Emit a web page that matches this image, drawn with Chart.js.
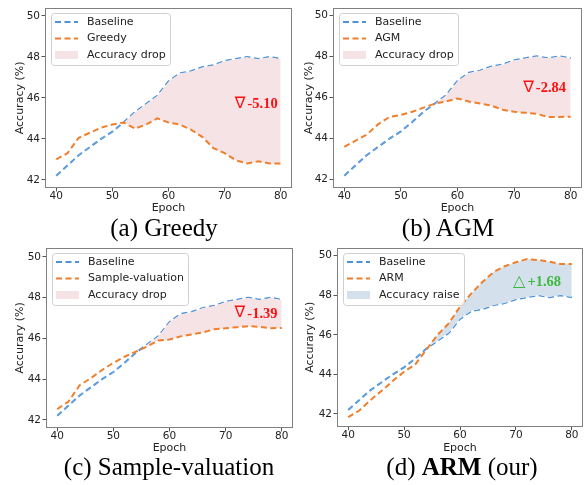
<!DOCTYPE html>
<html><head><meta charset="utf-8">
<script src="https://cdn.jsdelivr.net/npm/chart.js@4.4.0/dist/chart.umd.min.js"></script>
<style>
html,body{margin:0;padding:0;background:#fff;width:585px;height:485px;overflow:hidden;}
canvas{position:absolute;display:block;}
.cap{position:absolute;font-family:"Liberation Serif","Times New Roman",serif;font-size:25px;line-height:25px;color:#000;white-space:nowrap;transform:translateX(-50%);}
</style></head><body>
<canvas id="ca" width="293" height="218" style="left:0;top:0"></canvas>
<canvas id="cb" width="292" height="218" style="left:293px;top:0"></canvas>
<canvas id="cc" width="293" height="218" style="left:0;top:240px"></canvas>
<canvas id="cd" width="292" height="218" style="left:293px;top:240px"></canvas>
<div class="cap" style="left:164px;top:215px">(a) Greedy</div>
<div class="cap" style="left:448px;top:215px">(b) AGM</div>
<div class="cap" style="left:169px;top:454px">(c) Sample-valuation</div>
<div class="cap" style="left:462px;top:454px">(d) <b>ARM</b> (our)</div>
<script>
// ---- data ----
const epochs = [40,42,44,46,48,50,52,54,56,58,60,62,64,66,68,70,72,74,76,78,80];
const baseline  = [42.2,42.7,43.2,43.6,44.0,44.35,44.8,45.3,45.7,46.1,46.8,47.2,47.3,47.5,47.6,47.8,47.9,48.0,47.9,48.0,47.9];
const greedy    = [43.0,43.3,44.05,44.3,44.55,44.7,44.8,44.5,44.7,45.0,44.8,44.7,44.45,44.1,43.55,43.3,42.95,42.8,42.9,42.8,42.8];
const agm       = [43.6,43.9,44.2,44.7,45.05,45.15,45.3,45.5,45.7,45.8,45.95,45.8,45.7,45.6,45.4,45.3,45.25,45.2,45.05,45.05,45.06];
const sampleVal = [42.53,42.9,43.7,44.05,44.45,44.8,45.1,45.35,45.6,45.9,45.95,46.1,46.2,46.3,46.45,46.5,46.55,46.6,46.57,46.5,46.51];
const arm       = [41.83,42.17,42.7,43.17,43.67,44.13,44.5,45.25,46.0,46.58,47.42,48.08,48.67,49.17,49.47,49.67,49.83,49.78,49.7,49.58,49.58];
const xTicks = [40,50,60,70,80];
const yTicks = [42,44,46,48,50];
const baselineLabel = 'Baseline';
const methodNames = ['Greedy','AGM','Sample-valuation','ARM'];
const fillLabels = ['Accuracy drop','Accuracy drop','Accuracy drop','Accuracy raise'];
const yTitles = ['Accuracy (%)','Accuracy (%)','Accurary (%)','Accurary (%)'];
const xTitle = 'Epoch';
const noteSymbols = ['\u2207','\u2207','\u2207','\u25B3'];
const noteTexts = ['-5.10','-2.84','-1.39','+1.68'];

// ---- styles ----
const BLUE='#4b92da', ORANGE='#f07f2c', PINK='#f6e3e6', LBLUE='#d4e1ec', RED='#ff1010', GREEN='#3cb83c';
const FRAME='#808080', TXT='#222';
const CLEAR='rgba(0,0,0,0)';

const decor = {
  id:'decor',
  afterDatasetsDraw(chart, args, o){
    const {ctx, chartArea:ca, scales} = chart;
    ctx.save();
    // frame
    ctx.strokeStyle = FRAME; ctx.lineWidth = 1; ctx.setLineDash([]);
    const L=Math.round(ca.left), T=Math.round(ca.top), R=Math.round(ca.right), B=Math.round(ca.bottom);
    ctx.strokeRect(L+0.5, T+0.5, R-L-1, B-T-1);
    // annotation
    const px = scales.x.getPixelForValue(o.noteX), py = scales.y.getPixelForValue(o.noteY);
    ctx.fillStyle = o.noteColor; ctx.textAlign='left'; ctx.textBaseline='middle';
    ctx.font = '16px "DejaVu Sans"';
    ctx.fillText(o.noteSym, px, py);
    const sw = ctx.measureText(o.noteSym).width;
    ctx.font = 'bold 14.5px "Liberation Serif"';
    ctx.fillText(o.noteText, px + sw + 2, py + 1);
    // legend
    const ds = chart.data.datasets;
    const items = [
      {type:'line', label: ds[0].label, color: ds[0].borderColor, dash: ds[0].borderDash},
      {type:'line', label: ds[1].label, color: ds[1].borderColor, dash: ds[1].borderDash},
      {type:'patch', label: o.fillLabel, color: o.fillColor}
    ];
    ctx.font = '11px "DejaVu Sans"';
    const tw = Math.max(...items.map(i => ctx.measureText(i.label).width));
    const x0 = ca.left + 6, y0 = ca.top + 5.5, w = 36 + tw + 4, h = 51.5;
    ctx.beginPath();
    ctx.roundRect(Math.round(x0)+0.5, Math.round(y0)+0.5, Math.round(w), Math.round(h), 3);
    ctx.fillStyle = 'rgba(255,255,255,0.8)'; ctx.fill();
    ctx.strokeStyle = '#d0d0d0'; ctx.lineWidth = 1; ctx.stroke();
    items.forEach((it, k) => {
      const cy = y0 + 8.7 + k * 16.5;
      if (it.type === 'line') {
        ctx.beginPath(); ctx.setLineDash(it.dash); ctx.lineWidth = 2; ctx.strokeStyle = it.color;
        ctx.moveTo(x0 + 4, cy); ctx.lineTo(x0 + 27, cy); ctx.stroke(); ctx.setLineDash([]);
      } else {
        ctx.fillStyle = it.color; ctx.fillRect(x0 + 4, cy - 4, 23, 8);
      }
      ctx.fillStyle = TXT; ctx.textBaseline = 'middle';
      ctx.fillText(it.label, x0 + 36, cy);
    });
    ctx.restore();
  }
};

const panels = [
  {id:'ca', data: greedy,    k:0, mode:'drop',  ymin:41.6, ymax:50.4, pad:{left:11, top:4, right:1, bottom:0}, yW:34,   xH:30,   noteX:71.8, noteY:45.73},
  {id:'cb', data: agm,       k:1, mode:'drop',  ymin:41.6, ymax:50.35,pad:{left:6.3,top:4, right:3, bottom:0}, yW:33.7, xH:30,   noteX:71.6, noteY:46.48},
  {id:'cc', data: sampleVal, k:2, mode:'drop',  ymin:41.6, ymax:50.45,pad:{left:10.7,top:5,right:0, bottom:0}, yW:35.3, xH:30,   noteX:71.6, noteY:47.24},
  {id:'cd', data: arm,       k:3, mode:'raise', ymin:41.35,ymax:50.4, pad:{left:7.7,top:5, right:2, bottom:0}, yW:36.3, xH:31.3, noteX:69.5, noteY:48.7}
];

const pts = arr => epochs.map((e, i) => ({x: e, y: arr[i]}));

panels.forEach(p => {
  const drop = p.mode === 'drop';
  new Chart(document.getElementById(p.id), {
    type:'line',
    data:{datasets:[
      {label: baselineLabel, data: pts(baseline), borderColor: BLUE, borderWidth: 2, borderDash:[6,3.5],
       pointRadius: 0, fill: false, tension: 0, order: 1},
      {label: methodNames[p.k], data: pts(p.data), borderColor: ORANGE, borderWidth: 2, borderDash:[6,3.5],
       pointRadius: 0, tension: 0, order: 0,
       fill: {target: 0, above: drop ? CLEAR : LBLUE, below: drop ? PINK : CLEAR}}
    ]},
    options:{
      responsive:false, animation:false, devicePixelRatio:1,
      layout:{padding:p.pad},
      plugins:{
        legend:{display:false}, tooltip:{enabled:false},
        decor:{noteX:p.noteX, noteY:p.noteY, noteSym:noteSymbols[p.k], noteText:noteTexts[p.k],
               noteColor: drop ? RED : GREEN, fillLabel: fillLabels[p.k], fillColor: drop ? PINK : LBLUE}
      },
      scales:{
        x:{type:'linear', min:38, max:82,
           afterBuildTicks: s => { s.ticks = xTicks.map(v => ({value:v})); },
           afterFit: s => { s.height = p.xH; },
           ticks:{autoSkip:false, maxRotation:0, padding:0, color:TXT, font:{family:'DejaVu Sans', size:10.5, lineHeight:1}},
           grid:{display:true, drawOnChartArea:false, drawTicks:true, tickLength:3.5, color:'#555', lineWidth:1},
           border:{display:false},
           title:{display:true, text:xTitle, color:TXT, font:{family:'DejaVu Sans', size:11}, padding:{top:4,bottom:3}}},
        y:{type:'linear', min:p.ymin, max:p.ymax,
           afterBuildTicks: s => { s.ticks = yTicks.map(v => ({value:v})); },
           afterFit: s => { s.width = p.yW; },
           ticks:{autoSkip:false, padding:1.5, color:TXT, font:{family:'DejaVu Sans', size:10.5}},
           grid:{display:true, drawOnChartArea:false, drawTicks:true, tickLength:3.5, color:'#555', lineWidth:1},
           border:{display:false},
           title:{display:true, text:yTitles[p.k], color:TXT, font:{family:'DejaVu Sans', size:11}, padding:{top:3,bottom:4}}}
      }
    },
    plugins:[decor]
  });
});
</script>
</body></html>
